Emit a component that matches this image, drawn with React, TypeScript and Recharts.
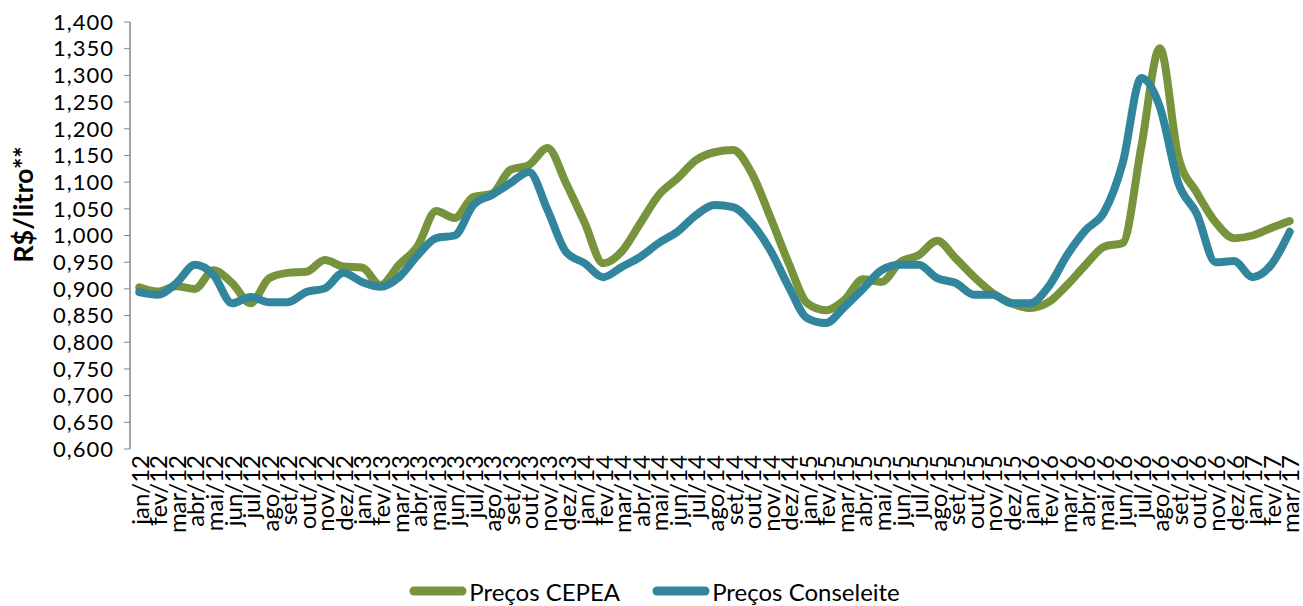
import { Legend, Line, LineChart, XAxis, YAxis } from "recharts";

const months = [
  "jan/12", "fev/12", "mar/12", "abr/12", "mai/12", "jun/12", "jul/12", "ago/12", "set/12", "out/12", "nov/12", "dez/12",
  "jan/13", "fev/13", "mar/13", "abr/13", "mai/13", "jun/13", "jul/13", "ago/13", "set/13", "out/13", "nov/13", "dez/13",
  "jan/14", "fev/14", "mar/14", "abr/14", "mai/14", "jun/14", "jul/14", "ago/14", "set/14", "out/14", "nov/14", "dez/14",
  "jan/15", "fev/15", "mar/15", "abr/15", "mai/15", "jun/15", "jul/15", "ago/15", "set/15", "out/15", "nov/15", "dez/15",
  "jan/16", "fev/16", "mar/16", "abr/16", "mai/16", "jun/16", "jul/16", "ago/16", "set/16", "out/16", "nov/16", "dez/16",
  "jan/17", "fev/17", "mar/17"
];

const cepeaPrices = [
  0.903, 0.895, 0.905, 0.9, 0.935, 0.911, 0.873, 0.92, 0.93, 0.932, 0.954, 0.942,
  0.94, 0.907, 0.945, 0.98, 1.046, 1.033, 1.072, 1.078, 1.123, 1.132, 1.164, 1.098,
  1.024, 0.948, 0.97, 1.023, 1.076, 1.107, 1.141, 1.156, 1.16, 1.117, 1.035, 0.948,
  0.873, 0.86, 0.879, 0.918, 0.913, 0.95, 0.963, 0.99, 0.957, 0.922, 0.892, 0.873,
  0.864, 0.875, 0.907, 0.945, 0.979, 0.986, 1.166, 1.351, 1.147, 1.08, 1.025, 0.995,
  1.0, 1.014, 1.027
];

const conseleitePrices = [
  0.894, 0.889, 0.911, 0.945, 0.926, 0.873, 0.885, 0.875, 0.875, 0.894, 0.901, 0.93,
  0.913, 0.904, 0.922, 0.963, 0.995, 1.0, 1.057, 1.076, 1.098, 1.119, 1.048, 0.969,
  0.948, 0.922, 0.941, 0.96, 0.986, 1.007, 1.038, 1.057, 1.053, 1.023, 0.973, 0.904,
  0.845, 0.836, 0.866, 0.9, 0.935, 0.945, 0.945, 0.92, 0.911, 0.889, 0.889, 0.873,
  0.873, 0.904, 0.963, 1.01, 1.044, 1.136, 1.295, 1.241, 1.098, 1.04, 0.95, 0.952,
  0.922, 0.945, 1.007
];

const yTicks = [0.6, 0.65, 0.7, 0.75, 0.8, 0.85, 0.9, 0.95, 1.0, 1.05, 1.1, 1.15, 1.2, 1.25, 1.3, 1.35, 1.4];

const palette = {
  cepea: "#77933c",
  conseleite: "#31859c",
  axis: "#868686",
  text: "#000000"
};

const font = "Lato, 'Open Sans', sans-serif";

const data = months.map((month, i) => ({
  month,
  cepea: cepeaPrices[i],
  conseleite: conseleitePrices[i]
}));

// tick marks sit between the month labels, like the spreadsheet original
const boundaryTicks = Array.from({ length: months.length + 1 }, (_, i) => i);

function formatPrice(value: number) {
  return value.toFixed(3).replace(".", ",");
}

function MonthTick({ x, y, payload }: { x?: number; y?: number; payload?: { value: string } }) {
  return (
    <text
      dominantBaseline="central"
      fill={palette.text}
      fontFamily={font}
      fontSize={24}
      textAnchor="end"
      transform={`rotate(-90, ${x}, ${y})`}
      x={x}
      y={y}
    >
      {payload?.value}
    </text>
  );
}

function YTitle({ viewBox }: { viewBox?: { x: number; y: number; width: number; height: number } }) {
  if (!viewBox) return null;
  const cx = viewBox.x + 22;
  const cy = viewBox.y + viewBox.height / 2 - 31;
  return (
    <text
      dominantBaseline="central"
      fill={palette.text}
      fontFamily={font}
      fontSize={27}
      fontWeight={700}
      textAnchor="middle"
      transform={`rotate(-90, ${cx}, ${cy})`}
      x={cx}
      y={cy}
    >
      R$/litro**
    </text>
  );
}

interface LegendItem {
  value?: string;
  color?: string;
}

function LegendContent({ payload }: { payload?: LegendItem[] }) {
  return (
    <div
      style={{
        alignItems: "center",
        color: palette.text,
        display: "flex",
        fontFamily: font,
        fontSize: 24,
        gap: 32,
        height: 30,
        justifyContent: "center",
        paddingLeft: 10
      }}
    >
      {(payload ?? []).map((item) => (
        <div key={item.value} style={{ alignItems: "center", display: "flex" }}>
          <svg height={12} width={58}>
            <line stroke={item.color} strokeLinecap="round" strokeWidth={9} x1={5} x2={53} y1={6} y2={6} />
          </svg>
          <span style={{ marginLeft: 2 }}>{item.value}</span>
        </div>
      ))}
    </div>
  );
}

export default function App() {
  return (
    <div style={{ background: "#fff", left: 0, position: "absolute", top: 0 }}>
      <LineChart data={data} height={606} margin={{ top: 22, right: 4, bottom: 0, left: 0 }} width={1303}>
        <XAxis
          allowDataOverflow
          axisLine={{ stroke: palette.axis, strokeWidth: 1.5 }}
          domain={[0, months.length]}
          height={0}
          tick={false}
          tickLine={{ stroke: palette.axis }}
          tickSize={6}
          ticks={boundaryTicks}
          type="number"
          xAxisId="frame"
        />
        <XAxis
          axisLine={false}
          dataKey="month"
          height={127}
          interval={0}
          scale="band"
          tick={<MonthTick />}
          tickLine={false}
          tickMargin={6}
          tickSize={0}
          xAxisId="month"
        />
        <YAxis
          axisLine={{ stroke: palette.axis, strokeWidth: 1.5 }}
          domain={[0.6, 1.4]}
          interval={0}
          label={{ content: <YTitle /> }}
          tick={{ fill: palette.text, fontFamily: font, fontSize: 22, letterSpacing: 1 }}
          tickFormatter={formatPrice}
          tickLine={{ stroke: palette.axis }}
          tickMargin={10}
          tickSize={6}
          ticks={yTicks}
          type="number"
          width={130}
        />
        <Legend content={<LegendContent />} height={30} verticalAlign="bottom" wrapperStyle={{ height: 30 }} />
        <Line
          activeDot={false}
          dataKey="cepea"
          dot={false}
          isAnimationActive={false}
          name="Preços CEPEA"
          stroke={palette.cepea}
          strokeLinecap="round"
          strokeWidth={8}
          type="monotone"
          xAxisId="month"
        />
        <Line
          activeDot={false}
          dataKey="conseleite"
          dot={false}
          isAnimationActive={false}
          name="Preços Conseleite"
          stroke={palette.conseleite}
          strokeLinecap="round"
          strokeWidth={8}
          type="monotone"
          xAxisId="month"
        />
      </LineChart>
    </div>
  );
}
